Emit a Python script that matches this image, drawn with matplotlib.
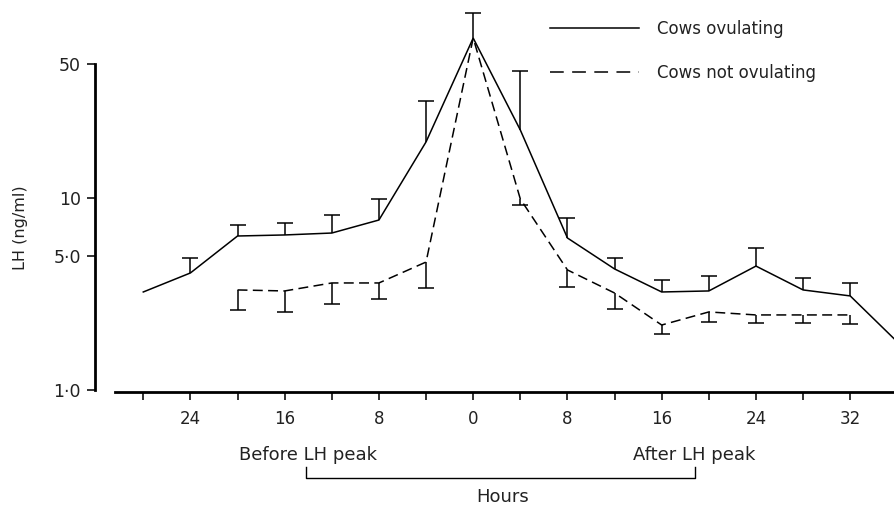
import matplotlib
matplotlib.use("Agg")
import matplotlib.pyplot as plt
import matplotlib.transforms as mtransforms
from matplotlib.lines import Line2D
import numpy as np

plt.rcParams['font.family'] = ['DejaVu Sans']

# hours relative to the LH peak (negative = before)
hours_ov = [-28, -24, -20, -16, -12, -8, -4, 0, 4, 8, 12, 16, 20, 24, 28, 32, 36]
lh_ov = [3.24, 4.07, 6.34, 6.42, 6.57, 7.68, 19.6, 68.1, 22.6, 6.19, 4.27, 3.24, 3.28, 4.42, 3.32, 3.09, 1.78]
# upper end of the error bars (cows ovulating), None = no bar
lh_ov_top = [None, 4.87, 7.24, 7.41, 8.15, 9.88, 32.0, 92.0, 45.9, 7.87, 4.87, 3.74, 3.92, 5.49, 3.83, 3.61, None]

hours_not = [-20, -16, -12, -8, -4, 0, 4, 8, 12, 16, 20, 24, 28, 32]
lh_not = [3.32, 3.28, 3.61, 3.61, 4.64, 68.1, 9.88, 4.22, 3.20, 2.18, 2.55, 2.46, 2.46, 2.46]
# lower end of the error bars (cows not ovulating)
lh_not_bot = [2.61, 2.55, 2.80, 2.98, 3.40, None, 9.20, 3.44, 2.64, 1.96, 2.26, 2.23, 2.23, 2.21]

x_ticks = list(range(-28, 33, 4))
x_labels = [str(abs(h)) if h % 8 == 0 else '' for h in x_ticks]
y_ticks = [1, 5, 10, 50]
y_labels = ['1·0', '5·0', '10', '50']

W, H = 895, 508
fig = plt.figure(figsize=(W / 100, H / 100), dpi=100)
ax = fig.add_axes([115 / W, (H - 392) / H, 780 / W, 392 / H])

ax.set_yscale('log')
ax.set_ylim(10 ** (-2 / 192), 10 ** (390 / 192))
ax.set_xlim(-30.4, 35.8)

lw = 1.1
ax.plot(hours_ov, lh_ov, color='black', lw=lw, solid_joinstyle='miter')
ax.plot(hours_not, lh_not, color='black', lw=lw, dashes=(6.5, 3.5))

# error bars: upwards for ovulating, downwards for not ovulating
xo = [h for h, t in zip(hours_ov, lh_ov_top) if t is not None]
yo = [v for v, t in zip(lh_ov, lh_ov_top) if t is not None]
to = [t for t in lh_ov_top if t is not None]
ax.vlines(xo, yo, to, color='black', lw=lw)
ax.plot(xo, to, ls='', marker='_', ms=11, mew=lw, color='black')

xn = [h for h, b in zip(hours_not, lh_not_bot) if b is not None]
yn = [v for v, b in zip(lh_not, lh_not_bot) if b is not None]
bn = [b for b in lh_not_bot if b is not None]
ax.vlines(xn, bn, yn, color='black', lw=lw)
ax.plot(xn, bn, ls='', marker='_', ms=11, mew=lw, color='black')

# axes styling
for s in ['top', 'right']:
    ax.spines[s].set_visible(False)
ax.spines['left'].set_position(('outward', 14.4))
ax.spines['left'].set_bounds(1, 50)
ax.spines['left'].set_linewidth(2.0)
ax.spines['bottom'].set_linewidth(2.0)

ax.set_xticks(x_ticks)
ax.set_xticklabels(x_labels)
ax.set_yticks(y_ticks)
ax.set_yticklabels(y_labels)
ax.yaxis.set_minor_locator(matplotlib.ticker.NullLocator())
ax.tick_params(axis='x', direction='out', length=6, width=1.3, pad=7,
               labelsize=12, colors='#222222')
ax.tick_params(axis='y', direction='out', length=6, width=1.3, pad=4,
               labelsize=12.5, colors='#222222')

# legend
handles = [Line2D([], [], color='black', lw=lw),
           Line2D([], [], color='black', lw=lw, dashes=(9, 5.5))]
leg = ax.legend(handles, ['Cows ovulating', 'Cows not ovulating'],
                loc='upper left', bbox_to_anchor=(542 / W, 1 - 12 / H),
                bbox_transform=fig.transFigure, frameon=False, borderpad=0,
                handlelength=5.3, handletextpad=1.1, labelspacing=1.55,
                fontsize=12)
for t in leg.get_texts():
    t.set_color('#222222')

# labels under the axis
fig.text(21 / W, 1 - 228 / H, 'LH (ng/ml)', rotation=90, ha='center', va='center',
         fontsize=11.5, color='#222222')
fig.text(308 / W, 1 - 455 / H, 'Before LH peak', ha='center', va='center',
         fontsize=13, color='#222222')
fig.text(694 / W, 1 - 455 / H, 'After LH peak', ha='center', va='center',
         fontsize=13, color='#222222')
fig.text(503 / W, 1 - 497 / H, 'Hours', ha='center', va='center',
         fontsize=13, color='#222222')

trans = mtransforms.blended_transform_factory(ax.transData, fig.transFigure)
ax.plot([-14.2, -14.2, 18.8, 18.8], [1 - 467 / H, 1 - 478 / H, 1 - 478 / H, 1 - 467 / H],
        color='black', lw=1.0, transform=trans, clip_on=False)

fig.savefig('out.png', dpi=100)
